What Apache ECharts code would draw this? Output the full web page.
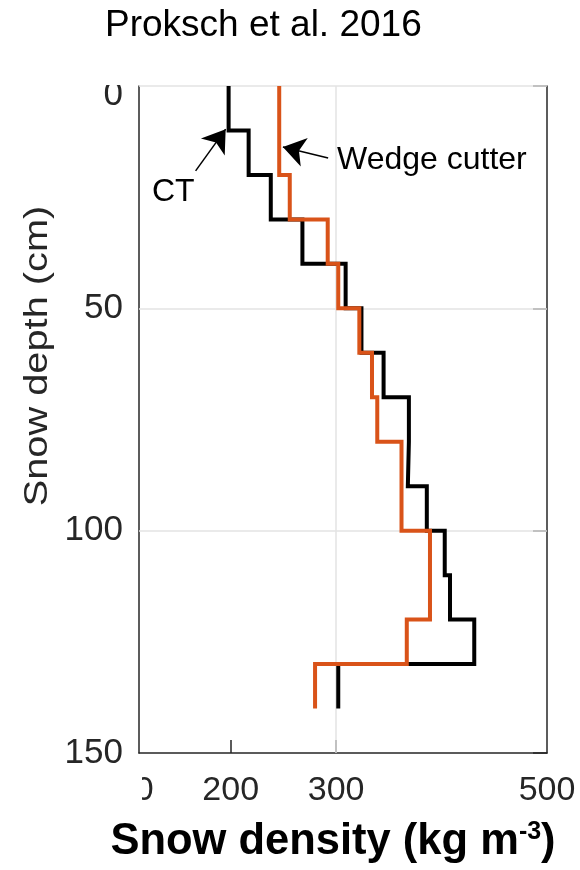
<!DOCTYPE html>
<html>
<head>
<meta charset="utf-8">
<script src="https://cdn.jsdelivr.net/npm/echarts@6/dist/echarts.min.js"></script>
<style>
html,body{margin:0;padding:0;background:#fff;}
#chart{width:580px;height:870px;}
</style>
</head>
<body>
<div id="chart"></div>
<script>
// ---- data ----
const layerTop    = [0, 10, 20, 30, 40, 50, 60, 70, 80, 90, 100, 110, 120, 130];
const layerBottom = [10, 20, 30, 40, 50, 60, 70, 80, 90, 100, 110, 120, 130, 140];
const ctDensity    = [198, 217, 238, 268, 309, 324, 345, 369, 368, 386, 403, 408, 431, 302];
const wedgeDensity = [246, 246, 256, 292, 302, 322, 334, 339, 362, 362, 389, 389, 367, 280];
const xLabelValues = [200, 300, 500];
const xTickValues  = [200, 300];
const xGridValues  = [300];
const yGridValues  = [0, 50, 100];
const ctArrow    = [[166.7, 19.1], [195.2, 9.7]];
const wedgeArrow = [[292.4, 16.2], [249.5, 13.7]];

function stairs(vals) {
  const pts = [];
  vals.forEach((v, i) => { pts.push([v, layerTop[i]]); pts.push([v, layerBottom[i]]); });
  return pts;
}

const FONT = 'Liberation Sans, Arial, sans-serif';
const AX = '#262626';
const chart = echarts.init(document.getElementById('chart'), null, {renderer: 'canvas'});

const option = {
  backgroundColor: '#fff',
  animation: false,
  title: {
    text: 'Proksch et al. 2016',
    left: 100, top: 2,
    textStyle: {fontFamily: FONT, fontSize: 37, fontWeight: 'normal', color: '#000'}
  },
  grid: {left: 139, right: 33, top: 86, bottom: 117, containLabel: false, outerBoundsMode: 'none'},
  xAxis: {
    type: 'value', min: 113, max: 500,
    axisLine: {show: true, onZero: false, lineStyle: {color: AX, width: 1.5}},
    axisTick: {show: true, inside: true, length: 13, customValues: xTickValues, lineStyle: {color: AX, width: 1.5}},
    axisLabel: {show: true, customValues: xLabelValues, margin: 21, fontFamily: FONT, fontSize: 34, color: AX},
    splitLine: {show: false},
    name: '{b|Snow density (kg m}{s|-3}{b|)}',
    nameLocation: 'middle', nameGap: 67,
    nameTextStyle: {
      padding: [0, 20, 0, 0],
      rich: {
        b: {fontFamily: FONT, fontSize: 43.5, fontWeight: 'bold', color: '#000'},
        s: {fontFamily: FONT, fontSize: 25, fontWeight: 'bold', color: '#000', verticalAlign: 'top', padding: [0, 0, 14, 0]}
      }
    }
  },
  yAxis: [{
    type: 'value', inverse: true, min: 0, max: 150, interval: 50,
    axisLine: {show: true, onZero: false, lineStyle: {color: AX, width: 1.5}},
    axisTick: {show: false},
    axisLabel: {
      margin: 16, fontFamily: FONT, fontSize: 35, color: AX,
      formatter: v => v === 0 ? '{z|0}' : String(v),
      rich: {z: {fontFamily: FONT, fontSize: 35, color: AX, padding: [18, 0, 0, 0]}}
    },
    splitLine: {show: false}
  }, {
    type: 'value', inverse: true, min: 0, max: 150, interval: 50, position: 'right',
    axisLine: {show: true, onZero: false, lineStyle: {color: AX, width: 1.5}},
    axisTick: {show: true, inside: true, length: 14, lineStyle: {color: AX, width: 1.5}},
    axisLabel: {show: false},
    splitLine: {show: false}
  }],
  series: [
    {
      name: 'grid', type: 'line', data: [], silent: true, z: 1,
      markLine: {
        silent: true, symbol: 'none', animation: false, z: 1,
        label: {show: false},
        lineStyle: {color: '#e3e3e3', width: 1.5, type: 'solid'},
        data: xGridValues.map(v => ({xAxis: v})).concat(yGridValues.map(v => ({yAxis: v})))
      }
    },
    {
      name: 'CT', type: 'line', data: stairs(ctDensity), showSymbol: false, z: 3,
      lineStyle: {color: '#000', width: 4, join: 'miter'},
      markLine: {
        silent: true, animation: false, label: {show: false}, z: 6,
        symbol: ['none', 'arrow'], symbolSize: 22,
        lineStyle: {color: '#000', width: 1.5, type: 'solid'},
        data: [
          [{coord: ctArrow[0]}, {coord: ctArrow[1]}],
          [{coord: wedgeArrow[0]}, {coord: wedgeArrow[1]}]
        ]
      }
    },
    {
      name: 'Wedge cutter', type: 'line', data: stairs(wedgeDensity), showSymbol: false, z: 4,
      lineStyle: {color: '#D95319', width: 4, join: 'miter'}
    }
  ],
  graphic: [
    {type: 'text', id: 'ct', left: 152, top: 176, z: 10, style: {text: 'CT', fontFamily: FONT, fontSize: 32, fill: '#000'}},
    {type: 'text', id: 'wc', left: 337, top: 144, z: 10, style: {text: 'Wedge cutter', fontFamily: FONT, fontSize: 32, fill: '#000'}},
    {type: 'text', id: 'yname', x: 38, y: 356, rotation: Math.PI / 2, scaleX: 1.17, z: 10,
      style: {text: 'Snow depth (cm)', fontFamily: FONT, fontSize: 34, fill: AX, align: 'center', verticalAlign: 'middle'}}
  ]
};
chart.setOption(option);

// clipped "100" tick label at left edge (cropped in the original figure)
const px100 = chart.convertToPixel({xAxisIndex: 0}, 100);
const pyBottom = chart.convertToPixel({yAxisIndex: 0}, 150);
chart.setOption({
  graphic: [
    {type: 'text', id: 'lbl100', x: px100, y: pyBottom + 21, z: 20,
      style: {text: '100', fontFamily: FONT, fontSize: 34, fill: AX, align: 'center', verticalAlign: 'top'}},
    {type: 'rect', id: 'mask100', z: 21, shape: {x: 0, y: pyBottom + 14, width: 142, height: 46}, style: {fill: '#fff'}},
    {type: 'rect', id: 'mask0', z: 21, shape: {x: 90, y: 60, width: 47, height: 25}, style: {fill: '#fff'}}
  ]
});
</script>
</body>
</html>
